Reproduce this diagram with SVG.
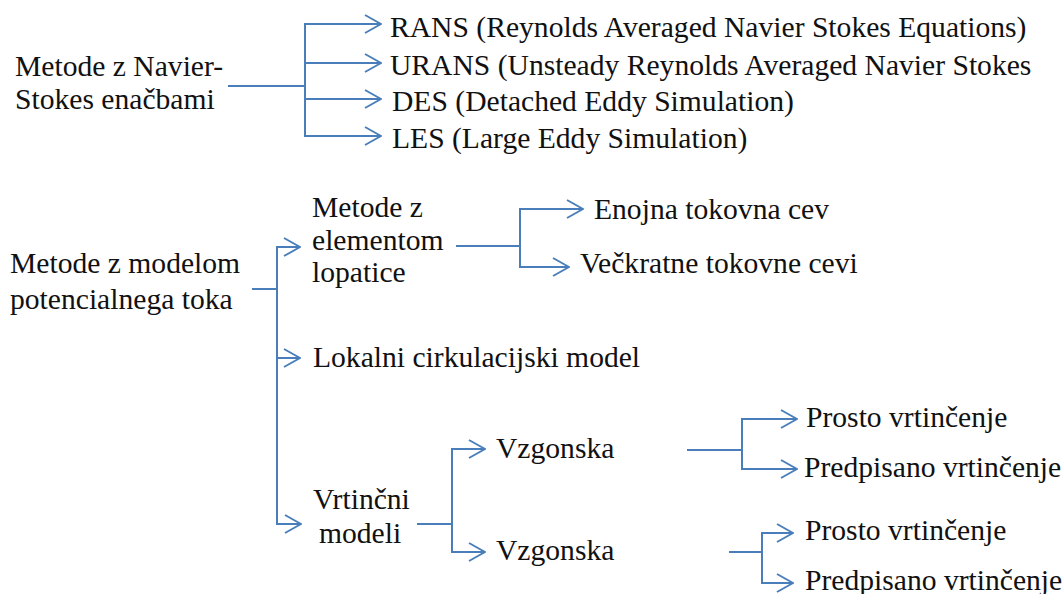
<svg xmlns="http://www.w3.org/2000/svg" width="1062" height="594" viewBox="0 0 1062 594">
  <style>
    .t { font-family: "Liberation Serif", "Times New Roman", serif; font-size: 29.6px; fill: #111; }
    .c { fill: none; stroke: #4a7ebb; stroke-width: 2; }
    .a { marker-end: url(#arr); }
  </style>
  <defs>
    <!-- open chevron arrowhead -->
    <marker id="arr" markerUnits="userSpaceOnUse" viewBox="0 0 18 20" refX="17" refY="10" markerWidth="18" markerHeight="20" orient="auto">
      <path d="M1,1 L17,10 L1,19" fill="none" stroke="#4a7ebb" stroke-width="2"/>
    </marker>
  </defs>
  <rect width="1062" height="594" fill="#fff"/>

  <!-- connectors -->
  <g id="connectors">
    <!-- Navier-Stokes branch -->
    <path class="c" d="M228,86 H305"/>
    <path class="c a" d="M305,86 V24 H381"/>
    <path class="c a" d="M305,86 V63 H381"/>
    <path class="c a" d="M305,86 V99 H381"/>
    <path class="c a" d="M305,86 V136 H381"/>
    <!-- potential flow branch -->
    <path class="c" d="M252,289 H277"/>
    <path class="c a" d="M277,289 V247 H300"/>
    <path class="c a" d="M277,289 V358 H300"/>
    <path class="c a" d="M277,289 V524 H301"/>
    <!-- blade element -->
    <path class="c" d="M456,246 H520"/>
    <path class="c a" d="M520,246 V209 H583"/>
    <path class="c a" d="M520,246 V267 H569"/>
    <!-- vortex models -->
    <path class="c" d="M417,524 H452"/>
    <path class="c a" d="M452,524 V449 H485"/>
    <path class="c a" d="M452,524 V552 H485"/>
    <!-- upper lift branch -->
    <path class="c" d="M687,450 H742"/>
    <path class="c a" d="M742,450 V419 H797"/>
    <path class="c a" d="M742,450 V469 H797"/>
    <!-- lower lift branch -->
    <path class="c" d="M729,552 H762"/>
    <path class="c a" d="M762,552 V533 H793"/>
    <path class="c a" d="M762,552 V583 H793"/>
  </g>

  <g id="ns">
    <text class="t" x="15" y="76">Metode z Navier-</text>
    <text class="t" x="15" y="109">Stokes enačbami</text>
  </g>
  <g id="rans"><text class="t" x="390" y="37">RANS (Reynolds Averaged Navier Stokes Equations)</text></g>
  <g id="urans"><text class="t" x="390" y="75">URANS (Unsteady Reynolds Averaged Navier Stokes</text></g>
  <g id="des"><text class="t" x="392" y="111">DES (Detached Eddy Simulation)</text></g>
  <g id="les"><text class="t" x="392" y="148">LES (Large Eddy Simulation)</text></g>

  <g id="potential">
    <text class="t" x="10" y="273">Metode z modelom</text>
    <text class="t" x="10" y="309">potencialnega toka</text>
  </g>
  <g id="blade">
    <text class="t" x="312" y="217">Metode z</text>
    <text class="t" x="312" y="250">elementom</text>
    <text class="t" x="312" y="282">lopatice</text>
  </g>
  <g id="single"><text class="t" x="594" y="219">Enojna tokovna cev</text></g>
  <g id="multiple"><text class="t" x="580" y="273">Večkratne tokovne cevi</text></g>
  <g id="local"><text class="t" x="313" y="367">Lokalni cirkulacijski model</text></g>
  <g id="vortex">
    <text class="t" x="313" y="509">Vrtinčni</text>
    <text class="t" x="319" y="543">modeli</text>
  </g>
  <g id="lift1"><text class="t" x="496" y="458">Vzgonska</text></g>
  <g id="lift2"><text class="t" x="496" y="560">Vzgonska</text></g>
  <g id="free1"><text class="t" x="806" y="427">Prosto vrtinčenje</text></g>
  <g id="prescribed1"><text class="t" x="804" y="477">Predpisano vrtinčenje</text></g>
  <g id="free2"><text class="t" x="805" y="540">Prosto vrtinčenje</text></g>
  <g id="prescribed2"><text class="t" x="805" y="590">Predpisano vrtinčenje</text></g>
</svg>
